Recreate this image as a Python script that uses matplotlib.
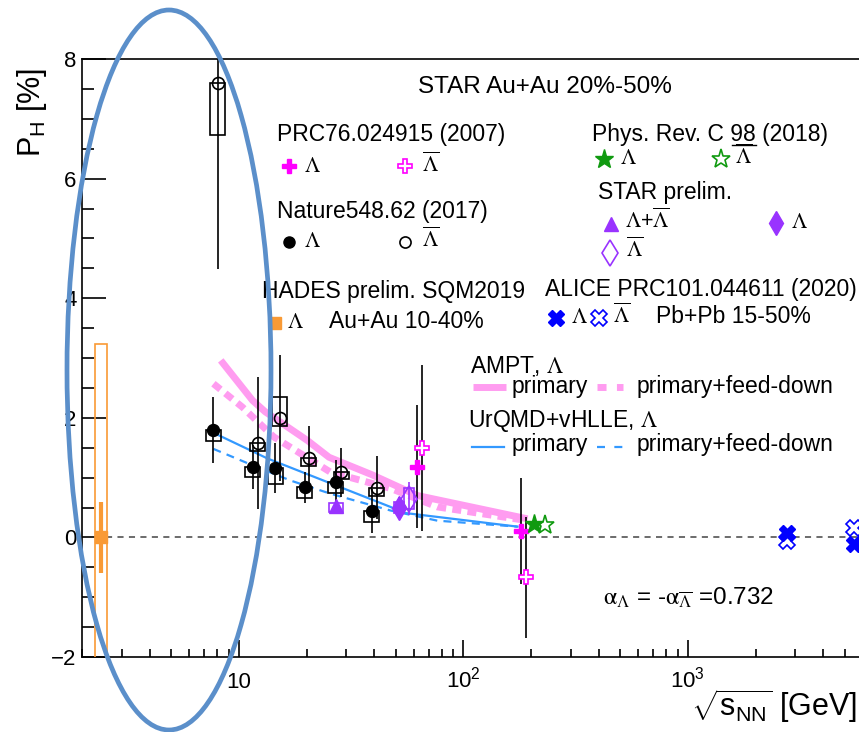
import numpy as np
import matplotlib
matplotlib.use('Agg')
import matplotlib.pyplot as plt
from matplotlib.patches import Rectangle, Ellipse
from matplotlib.lines import Line2D
from matplotlib.ticker import FixedLocator, MultipleLocator, LogLocator, NullFormatter

plt.rcParams['font.family'] = ['Liberation Sans', 'DejaVu Sans']
plt.rcParams['mathtext.fontset'] = 'custom'
plt.rcParams['mathtext.rm'] = 'Liberation Sans'
plt.rcParams['mathtext.it'] = 'Liberation Sans:italic'
plt.rcParams['mathtext.bf'] = 'Liberation Sans:bold'
plt.rcParams['mathtext.sf'] = 'Liberation Sans'

# --- data (sqrt(s_NN) in GeV, P_H in %) ---
# Nature 548, 62 (2017)
nat_lam_x = [7.7, 11.5, 14.5, 19.6, 27.0, 39.0]
nat_lam_y = [1.79, 1.18, 1.16, 0.84, 0.93, 0.44]
nat_lam_err = [0.55, 0.37, 0.42, 0.26, 0.36, 0.37]
nat_lam_sys_lo = [1.62, 1.01, 0.90, 0.66, 0.74, 0.26]
nat_lam_sys_hi = [1.79, 1.18, 1.16, 0.84, 0.93, 0.44]

nat_bar_x = [8.06, 12.1, 15.2, 20.5, 28.6, 41.1]
nat_bar_y = [7.60, 1.58, 2.00, 1.33, 1.09, 0.83]
nat_bar_err = [3.12, 1.10, 1.05, 0.53, 0.41, 0.53]
nat_bar_sys_lo = [6.73, 1.44, 1.87, 1.19, 0.97, 0.69]
nat_bar_sys_hi = [7.60, 1.58, 2.35, 1.33, 1.09, 0.83]

# PRC 76, 024915 (2007)
prc_lam_x = [62.4, 180.0]
prc_lam_y = [1.18, 0.11]
prc_lam_err = [1.03, 0.89]
prc_bar_x = [65.6, 190.6]
prc_bar_y = [1.50, -0.67]
prc_bar_err = [1.39, 1.01]

# Phys. Rev. C 98 (2018)
prc98_lam_x = [207.0]
prc98_lam_y = [0.23]
prc98_bar_x = [230.0]
prc98_bar_y = [0.20]

# STAR preliminary
sp_sum_x = [27.0]
sp_sum_y = [0.52]
sp_sum_sys_lo = [0.42]
sp_sum_sys_hi = [0.58]
sp_lam_x = [51.6]
sp_lam_y = [0.50]
sp_lam_err = [0.18]
sp_lam_sys_lo = [0.40]
sp_lam_sys_hi = [0.59]
sp_bar_x = [57.5]
sp_bar_y = [0.65]
sp_bar_err = [0.27]
sp_bar_sys_lo = [0.48]
sp_bar_sys_hi = [0.82]

# HADES preliminary SQM2019
hades_x = [2.42]
hades_y = [0.0]
hades_err = [0.6]
hades_sys_lo = [-3.2]
hades_sys_hi = [3.23]

# ALICE PRC 101, 044611 (2020)
alice_lam_x = [2760.0, 5500.0]
alice_lam_y = [0.08, -0.11]
alice_bar_x = [2760.0, 5500.0]
alice_bar_y = [-0.06, 0.15]

# models
ampt_prim_x = [8.3, 11.5, 13.1, 20.2, 25.2, 39.0, 62.4, 193.0]
ampt_prim_y = [2.96, 2.29, 2.10, 1.62, 1.34, 1.05, 0.70, 0.31]
ampt_fd_x = [7.7, 10.35, 14.3, 25.6, 47.3, 76.5, 193.0]
ampt_fd_y = [2.57, 2.18, 1.68, 1.09, 0.82, 0.51, 0.28]
urqmd_prim_x = [8.0, 13.4, 27.0, 47.3, 54.4, 174.0]
urqmd_prim_y = [1.72, 1.32, 0.87, 0.51, 0.41, 0.18]
urqmd_fd_x = [7.7, 11.1, 17.0, 25.6, 47.3, 76.5, 174.0]
urqmd_fd_y = [1.48, 1.23, 0.95, 0.73, 0.45, 0.28, 0.18]

x_ticks = [10, 100, 1000]
x_tick_labels = ['10', r'$10^{2}$', r'$10^{3}$']
y_ticks = [-2, 0, 2, 4, 6, 8]

PINK = '#ff9cf0'
BLUE = '#3399ff'
MAG = '#ff00ff'
GREEN = '#109a10'
PURPLE = '#9933ff'
ORANGE = '#f99a35'
ALICE_BLUE = '#0000ff'
ELLIPSE = '#5b8fca'

W, H = 859, 732
fig = plt.figure(figsize=(W / 100, H / 100), dpi=100)
ax = fig.add_axes([82 / W, 1 - 657 / H, 808.7 / W, 598 / H])
ax.set_xscale('log')
ax.set_xlim(2, 8000)
ax.set_ylim(-2, 8)

# models
ax.plot(ampt_prim_x, ampt_prim_y, color=PINK, lw=5, solid_capstyle='butt', zorder=1)
ax.plot(ampt_fd_x, ampt_fd_y, color=PINK, lw=5, dashes=(1.3, 0.9), dash_capstyle='butt', zorder=1)
ax.plot(urqmd_prim_x, urqmd_prim_y, color=BLUE, lw=1.6, zorder=1)
ax.plot(urqmd_fd_x, urqmd_fd_y, color=BLUE, lw=1.6, dashes=(3.6, 2.8), zorder=1)

ax.hlines(0, 2.56, 8000, colors='#444444', lw=1.1, linestyles=(0, (4, 3.5)), zorder=0.5)


def sys_boxes(x, lo, hi, color, half_px=7.5, lw=1.2):
    f = 10 ** (half_px / 224.5)
    for xi, l, h in zip(x, lo, hi):
        ax.add_patch(Rectangle((xi / f, l), xi * f - xi / f, h - l, fill=False,
                               ec=color, lw=lw, zorder=3))


def stat_bars(x, y, err, color='k', lw=1.2):
    ax.errorbar(x, y, yerr=err, fmt='none', ecolor=color, elinewidth=lw, capsize=0, zorder=2)


# HADES
sys_boxes(hades_x, hades_sys_lo, hades_sys_hi, ORANGE, half_px=6)
stat_bars(hades_x, hades_y, hades_err, color=ORANGE, lw=3)
ax.plot(hades_x, hades_y, 's', color=ORANGE, ms=9, zorder=4)

# Nature
sys_boxes(nat_lam_x, nat_lam_sys_lo, nat_lam_sys_hi, 'k')
sys_boxes(nat_bar_x, nat_bar_sys_lo, nat_bar_sys_hi, 'k')
stat_bars(nat_lam_x, nat_lam_y, nat_lam_err)
stat_bars(nat_bar_x, nat_bar_y, nat_bar_err)
ax.plot(nat_lam_x, nat_lam_y, 'o', color='k', ms=8.6, zorder=4)
ax.plot(nat_bar_x, nat_bar_y, 'o', mfc='none', mec='k', mew=1.2, ms=8.6, zorder=4)

# STAR prelim
sys_boxes(sp_sum_x, sp_sum_sys_lo, sp_sum_sys_hi, PURPLE, half_px=7)
sys_boxes(sp_lam_x, sp_lam_sys_lo, sp_lam_sys_hi, PURPLE, half_px=5)
sys_boxes(sp_bar_x, sp_bar_sys_lo, sp_bar_sys_hi, PURPLE, half_px=5)
stat_bars(sp_lam_x, sp_lam_y, sp_lam_err, color=PURPLE)
stat_bars(sp_bar_x, sp_bar_y, sp_bar_err, color=PURPLE)
ax.plot(sp_sum_x, sp_sum_y, '^', color=PURPLE, ms=10, zorder=4)
ax.plot(sp_lam_x, sp_lam_y, 'd', color=PURPLE, ms=12, zorder=4)
ax.plot(sp_bar_x, sp_bar_y, 'd', mfc='none', mec=PURPLE, mew=1.2, ms=13, zorder=4)

# PRC76
stat_bars(prc_lam_x, prc_lam_y, prc_lam_err)
stat_bars(prc_bar_x, prc_bar_y, prc_bar_err)
ax.plot(prc_lam_x, prc_lam_y, 'P', color=MAG, ms=10, zorder=4)
ax.plot(prc_bar_x, prc_bar_y, 'P', mfc='white', mec=MAG, mew=1.2, ms=10, zorder=4)

# PRC98
ax.plot(prc98_lam_x, prc98_lam_y, '*', color=GREEN, ms=14, zorder=4)
ax.plot(prc98_bar_x, prc98_bar_y, '*', mfc='none', mec=GREEN, mew=1.2, ms=14, zorder=4)

# ALICE
ax.plot(alice_bar_x, alice_bar_y, 'X', mfc='none', mec=ALICE_BLUE, mew=1.2, ms=11, zorder=4)
ax.plot(alice_lam_x, alice_lam_y, 'X', color=ALICE_BLUE, ms=11, zorder=4)

# axes style
for s in ax.spines.values():
    s.set_linewidth(1.2)
ax.spines['right'].set_visible(False)
ax.xaxis.set_major_locator(FixedLocator(x_ticks))
ax.xaxis.set_minor_locator(LogLocator(base=10, subs=np.arange(2, 10)))
ax.xaxis.set_minor_formatter(NullFormatter())
ax.set_xticklabels(x_tick_labels)
ax.yaxis.set_major_locator(FixedLocator(y_ticks))
ax.yaxis.set_minor_locator(MultipleLocator(0.5))
ax.tick_params(axis='y', which='major', direction='in', length=17, width=1.2,
               labelsize=16, pad=4, right=False)
ax.tick_params(axis='y', which='minor', direction='in', length=8.6, width=1.2, right=False)
ax.tick_params(axis='x', which='major', direction='in', length=12, width=1.2,
               labelsize=16, pad=22, top=False)
ax.tick_params(axis='x', which='minor', direction='in', length=6, width=1.2, top=False)
for lbl in ax.get_xticklabels():
    lbl.set_va('baseline')

fig.text(32 / W, 1 - 68 / H, r'P$_{\mathrm{H}}$ [%]', rotation=90, fontsize=22,
         ha='center', va='top')
fig.text(857 / W, 1 - 716 / H, r'$\sqrt{\mathrm{s}_{\mathrm{NN}}}$ [GeV]', fontsize=22,
         ha='right', va='baseline')


# legend block in figure pixels
def ftext(px, py, s, size=16.5, **kw):
    fig.text(px / W, 1 - py / H, s, ha='left', va='baseline', fontsize=size, **kw)


def flam(px, py, s):
    ftext(px, py, s, size=15.5, math_fontfamily='stix')


def fmark(px, py, **kw):
    fig.add_artist(Line2D([px / W], [1 - py / H], transform=fig.transFigure,
                          linestyle='none', **kw))


def fline(px0, px1, py, **kw):
    fig.add_artist(Line2D([px0 / W, px1 / W], [1 - py / H] * 2, transform=fig.transFigure, **kw))


LAM = r'$\Lambda$'
LAMB = r'$\overline{\Lambda}$'

ftext(417.7, 93.3, 'STAR Au+Au 20%-50%', size=17.5)

ftext(277.3, 141, 'PRC76.024915 (2007)')
fmark(288.8, 166, marker='P', color=MAG, ms=10)
flam(304, 171.7, LAM)
fmark(405.4, 166, marker='P', mfc='none', mec=MAG, mew=1.2, ms=10)
flam(421.5, 171.7, LAMB)

ftext(277.3, 218.3, 'Nature548.62 (2017)')
fmark(288.8, 241.7, marker='o', color='k', ms=8)
flam(304, 246.7, LAM)
fmark(405.4, 242.5, marker='o', mfc='none', mec='k', mew=1.2, ms=8)
flam(421.5, 246.7, LAMB)

ftext(262, 298.3, 'HADES prelim. SQM2019')
fmark(274.6, 323.3, marker='s', color=ORANGE, ms=9)
flam(287, 328.3, LAM)
ftext(329, 328.3, 'Au+Au 10-40%')

ftext(591.5, 141, 'Phys. Rev. C 98 (2018)')
fline(732, 756, 145, color='k', lw=1)
fmark(604.2, 159.3, marker='*', color=GREEN, ms=14)
flam(619.6, 164, LAM)
fmark(720.8, 159.3, marker='*', mfc='none', mec=GREEN, mew=1.2, ms=14)
flam(735, 164, LAMB)

ftext(597.7, 199.3, 'STAR prelim.')
fmark(610.8, 224, marker='^', color=PURPLE, ms=10)
flam(625.4, 228.3, LAM + '+' + LAMB)
fmark(776, 223.3, marker='d', color=PURPLE, ms=12)
flam(790.8, 228.3, LAM)
fmark(610, 252.7, marker='d', mfc='none', mec=PURPLE, mew=1.2, ms=13)
flam(626, 256.7, LAMB)

ftext(544.6, 296, 'ALICE PRC101.044611 (2020)')
fmark(556, 318.3, marker='X', color=ALICE_BLUE, ms=11)
flam(570.8, 323.3, LAM)
fmark(598.5, 318.3, marker='X', mfc='none', mec=ALICE_BLUE, mew=1.2, ms=11)
flam(613, 323.3, LAMB)
ftext(656, 323.3, 'Pb+Pb 15-50%')

ftext(470, 372.7, 'AMPT, ' + LAM, math_fontfamily='stix')
fline(472.7, 506, 387.3, color=PINK, lw=5, solid_capstyle='butt')
ftext(511.7, 392.7, 'primary')
fline(597, 623, 387.3, color=PINK, lw=5, dashes=(1.3, 1.5), dash_capstyle='butt')
ftext(636.7, 392.7, 'primary+feed-down')

ftext(468, 427.3, 'UrQMD+vHLLE, ' + LAM, math_fontfamily='stix')
fline(471.7, 504, 447.3, color=BLUE, lw=1.6)
ftext(511.7, 450.7, 'primary')
fline(597, 623, 447.3, color=BLUE, lw=1.6, dashes=(3.6, 4.2))
ftext(636.7, 450.7, 'primary+feed-down')

ftext(603, 605, r'$\mathrm{\alpha}_{\Lambda}$ = -$\mathrm{\alpha}_{\overline{\Lambda}}$ =0.732',
      size=17.5, math_fontfamily='stix')

# highlight ellipse
fig.add_artist(Ellipse((169 / W, 1 - 370 / H), 204 / W, 720 / H, transform=fig.transFigure,
                       fill=False, ec=ELLIPSE, lw=3.4, zorder=10))

fig.savefig('out.png', dpi=100)
